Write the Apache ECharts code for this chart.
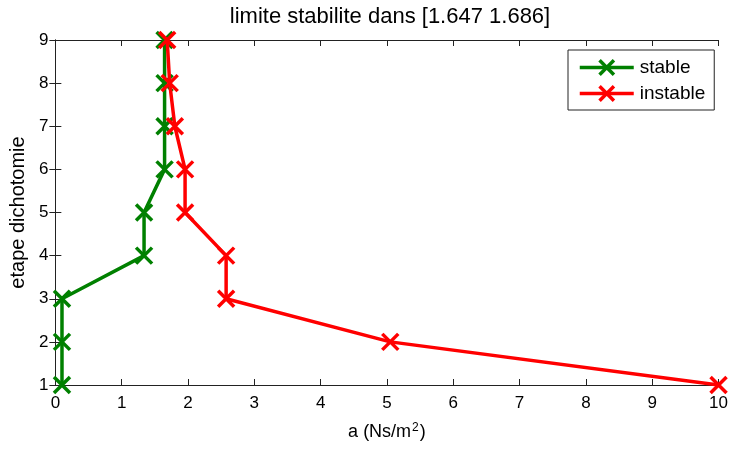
<!DOCTYPE html>
<html><head><meta charset="utf-8">
<script src="https://cdn.jsdelivr.net/npm/echarts@6/dist/echarts.min.js"></script>
<style>html,body{margin:0;padding:0;background:#fff}#c{width:731px;height:450px}</style>
</head><body><div id="c"></div>
<script>
const steps = [1, 2, 3, 4, 5, 6, 7, 8, 9];
const stableA = [0.1, 0.1, 0.1, 1.3375, 1.3375, 1.647, 1.647, 1.647, 1.647];
const instableA = [10, 5.05, 2.575, 2.575, 1.956, 1.956, 1.8016, 1.724, 1.686];
const titleText = 'limite stabilite dans [1.647 1.686]';
const xName = '{a|a (Ns/m}{s|2}{a|)}';
const yName = 'etape dichotomie';

const font = 'Liberation Sans, Arial, sans-serif';
const cross = 'path://M0,0L10,10M10,0L0,10';
const axisCommon = {
  axisLine: {show: true, lineStyle: {color: '#222', width: 1}},
  axisTick: {show: true, inside: true, length: 6, lineStyle: {color: '#222'}},
  splitLine: {show: false},
};
function mk(name, xs, color) {
  return {
    name: name, type: 'line',
    data: xs.map((x, i) => [x, steps[i]]),
    symbol: cross, symbolSize: 16,
    lineStyle: {color: color, width: 3.5},
    itemStyle: {color: color, borderColor: color, borderWidth: 3.5},
    emphasis: {disabled: true},
    animation: false, z: color === 'red' ? 3 : 2,
  };
}
const chart = echarts.init(document.getElementById('c'));
chart.setOption({
  animation: false,
  backgroundColor: '#fff',
  textStyle: {fontFamily: font},
  title: {text: titleText, left: 385, textAlign: 'center', top: 1,
    textStyle: {fontFamily: font, fontSize: 22, fontWeight: 'normal', color: '#000'}},
  grid: {left: 55, right: 9, top: 40, bottom: 65},
  legend: {
    left: 568, top: 50, orient: 'vertical',
    backgroundColor: '#fff', borderColor: '#222', borderWidth: 1, borderRadius: 0,
    padding: [8, 9, 7, 10], itemGap: 7, itemWidth: 54, itemHeight: 18,
    lineStyle: {width: 3.5}, itemStyle: {borderWidth: 3.5},
    textStyle: {fontFamily: font, fontSize: 19, color: '#000', padding: [0, 0, 0, 1]},
    data: ['stable', 'instable']
  },
  xAxis: [
    Object.assign({type: 'value', min: 0, max: 10, interval: 1, position: 'bottom',
      name: xName, nameLocation: 'middle', nameGap: 37,
      nameTextStyle: {fontFamily: font, fontSize: 18, color: '#000',
        rich: {a: {fontFamily: font, fontSize: 18, color: '#000', lineHeight: 21},
               s: {fontFamily: font, fontSize: 12, color: '#000', lineHeight: 21, verticalAlign: 'top', padding: [0, 1, 0, 1]}}},
      axisLabel: {fontFamily: font, fontSize: 17, color: '#000', margin: 10}}, axisCommon),
    Object.assign({type: 'value', min: 0, max: 10, interval: 1, position: 'top',
      axisLabel: {show: false}}, axisCommon)
  ],
  yAxis: [
    Object.assign({type: 'value', min: 1, max: 9, interval: 1, position: 'left',
      name: yName, nameLocation: 'middle', nameGap: 22,
      nameTextStyle: {fontFamily: font, fontSize: 20, color: '#000'},
      axisLabel: {fontFamily: font, fontSize: 17, color: '#000', margin: 7}}, axisCommon),
    Object.assign({type: 'value', min: 1, max: 9, interval: 1, position: 'right',
      axisLabel: {show: false}}, axisCommon)
  ],
  series: [mk('stable', stableA, 'green'), mk('instable', instableA, 'red')]
});
</script></body></html>
